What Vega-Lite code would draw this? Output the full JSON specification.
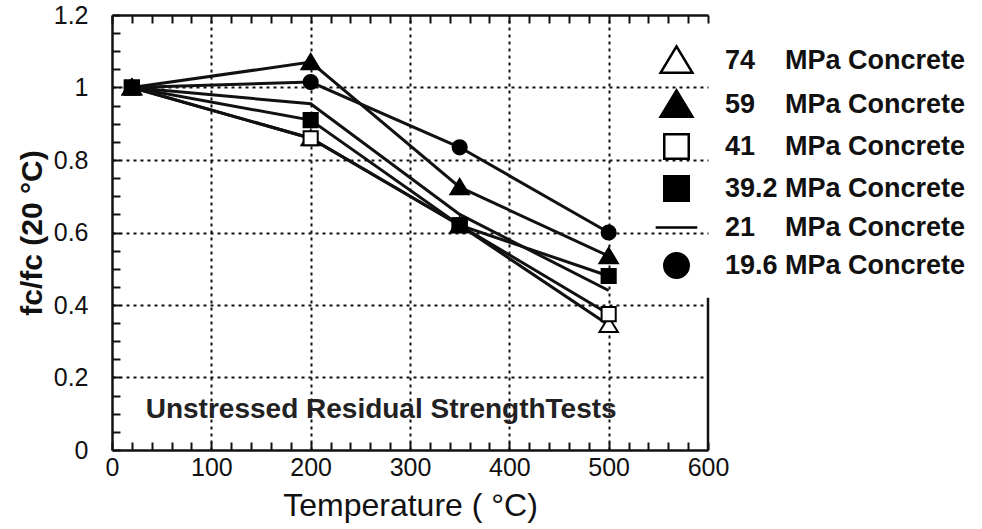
{
  "$schema": "https://vega.github.io/schema/vega-lite/v6.json",
  "width": 596,
  "height": 435,
  "autosize": {"type": "none"},
  "padding": {"left": 112, "top": 15, "right": 274, "bottom": 79},
  "background": "white",
  "config": {
    "view": {"stroke": null},
    "font": "Liberation Sans",
    "legend": {
      "orient": "none",
      "legendX": 551,
      "legendY": 32,
      "padding": 0,
      "symbolSize": 600,
      "symbolStrokeColor": "black",
      "symbolStrokeWidth": 2.5,
      "labelFont": "Liberation Sans",
      "labelFontSize": 27,
      "labelFontWeight": "bold",
      "labelColor": "#111",
      "labelOffset": 35,
      "labelLimit": 400,
      "rowPadding": 7
    }
  },
  "resolve": {"axis": {"x": "independent", "y": "independent"}},
  "data": {
    "values": [
      {"series": "74\u00a0\u00a0\u00a0 MPa Concrete", "temp": 20, "ratio": 1.0},
      {"series": "74\u00a0\u00a0\u00a0 MPa Concrete", "temp": 200, "ratio": 0.86},
      {"series": "74\u00a0\u00a0\u00a0 MPa Concrete", "temp": 350, "ratio": 0.62},
      {"series": "74\u00a0\u00a0\u00a0 MPa Concrete", "temp": 500, "ratio": 0.345},
      {"series": "59\u00a0\u00a0\u00a0 MPa Concrete", "temp": 20, "ratio": 1.0},
      {"series": "59\u00a0\u00a0\u00a0 MPa Concrete", "temp": 200, "ratio": 1.07},
      {"series": "59\u00a0\u00a0\u00a0 MPa Concrete", "temp": 350, "ratio": 0.725},
      {"series": "59\u00a0\u00a0\u00a0 MPa Concrete", "temp": 500, "ratio": 0.535},
      {"series": "41\u00a0\u00a0\u00a0 MPa Concrete", "temp": 20, "ratio": 1.0},
      {"series": "41\u00a0\u00a0\u00a0 MPa Concrete", "temp": 200, "ratio": 0.86},
      {"series": "41\u00a0\u00a0\u00a0 MPa Concrete", "temp": 350, "ratio": 0.62},
      {"series": "41\u00a0\u00a0\u00a0 MPa Concrete", "temp": 500, "ratio": 0.375},
      {"series": "39.2 MPa Concrete", "temp": 20, "ratio": 1.0},
      {"series": "39.2 MPa Concrete", "temp": 200, "ratio": 0.91},
      {"series": "39.2 MPa Concrete", "temp": 350, "ratio": 0.62},
      {"series": "39.2 MPa Concrete", "temp": 500, "ratio": 0.48},
      {"series": "21\u00a0\u00a0\u00a0 MPa Concrete", "temp": 20, "ratio": 1.0},
      {"series": "21\u00a0\u00a0\u00a0 MPa Concrete", "temp": 200, "ratio": 0.955},
      {"series": "21\u00a0\u00a0\u00a0 MPa Concrete", "temp": 350, "ratio": 0.65},
      {"series": "21\u00a0\u00a0\u00a0 MPa Concrete", "temp": 500, "ratio": 0.44},
      {"series": "19.6 MPa Concrete", "temp": 20, "ratio": 1.0},
      {"series": "19.6 MPa Concrete", "temp": 200, "ratio": 1.015},
      {"series": "19.6 MPa Concrete", "temp": 350, "ratio": 0.835},
      {"series": "19.6 MPa Concrete", "temp": 500, "ratio": 0.6}
    ]
  },
  "layer": [
    {
      "mark": {"type": "line", "stroke": "#111", "strokeWidth": 3},
      "encoding": {
        "x": {
          "field": "temp",
          "type": "quantitative",
          "scale": {"domain": [0, 600], "nice": false, "zero": false},
          "axis": {
            "orient": "bottom",
            "values": [0, 20, 40, 60, 80, 100, 120, 140, 160, 180, 200, 220, 240, 260, 280, 300, 320, 340, 360, 380, 400, 420, 440, 460, 480, 500, 520, 540, 560, 580, 600],
            "labelExpr": "datum.value % 100 === 0 ? datum.label : ''",
            "labelFlush": false,
            "labelOverlap": false,
            "labelBound": false,
            "labelFontSize": 25,
            "labelColor": "#111",
            "labelPadding": 13,
            "tickSize": -8,
            "tickWidth": 2,
            "tickColor": "#111",
            "domainColor": "#111",
            "domainWidth": 2.5,
            "grid": false,
            "title": "Temperature ( \u00b0C)",
            "titleFontSize": 32,
            "titleFontWeight": "normal",
            "titleColor": "#111",
            "titlePadding": 10
          }
        },
        "y": {
          "field": "ratio",
          "type": "quantitative",
          "scale": {"domain": [0, 1.2], "nice": false, "zero": false},
          "axis": {
            "orient": "left",
            "values": [0, 0.05, 0.1, 0.15, 0.2, 0.25, 0.3, 0.35, 0.4, 0.45, 0.5, 0.55, 0.6, 0.65, 0.7, 0.75, 0.8, 0.85, 0.9, 0.95, 1.0, 1.05, 1.1, 1.15, 1.2],
            "labelExpr": "round(datum.value * 20) % 4 === 0 ? format(datum.value, '~g') : ''",
            "labelFlush": false,
            "labelOverlap": false,
            "labelBound": false,
            "labelFontSize": 25,
            "labelColor": "#111",
            "labelPadding": 32,
            "tickSize": -8,
            "tickWidth": 2,
            "tickColor": "#111",
            "domainColor": "#111",
            "domainWidth": 2.5,
            "grid": true,
            "gridColor": "#111",
            "gridWidth": 2,
            "gridDash": [3, 4],
            "gridOpacity": {
              "condition": {"test": "round(datum.value * 20) % 4 === 0 && datum.value > 0.1 && datum.value < 1.1", "value": 1},
              "value": 0
            },
            "title": "fc/fc (20 \u00b0C)",
            "titleFontSize": 30,
            "titleFontWeight": "bold",
            "titleColor": "#111",
            "titlePadding": 6
          }
        },
        "detail": {"field": "series"}
      }
    },
    {
      "transform": [{"filter": "indexof(datum.series, '21') !== 0"}],
      "mark": {"type": "point", "strokeWidth": 2, "opacity": 1, "size": 200},
      "encoding": {
        "x": {
          "field": "temp",
          "type": "quantitative",
          "scale": {"domain": [0, 600], "nice": false, "zero": false},
          "axis": {
            "orient": "top",
            "values": [0, 20, 40, 60, 80, 100, 120, 140, 160, 180, 200, 220, 240, 260, 280, 300, 320, 340, 360, 380, 400, 420, 440, 460, 480, 500, 520, 540, 560, 580, 600],
            "labels": false,
            "tickSize": -8,
            "tickWidth": 2,
            "tickColor": "#111",
            "domainColor": "#111",
            "domainWidth": 2.5,
            "grid": true,
            "gridColor": "#111",
            "gridWidth": 2,
            "gridDash": [3, 4],
            "gridOpacity": {
              "condition": {"test": "datum.value % 100 === 0 && datum.value > 0 && datum.value < 600", "value": 1},
              "value": 0
            },
            "title": null
          }
        },
        "y": {
          "field": "ratio",
          "type": "quantitative",
          "scale": {"domain": [0, 1.2], "nice": false, "zero": false},
          "axis": null
        },
        "shape": {
          "field": "series",
          "type": "nominal",
          "title": null,
          "scale": {
            "domain": ["74\u00a0\u00a0\u00a0 MPa Concrete", "59\u00a0\u00a0\u00a0 MPa Concrete", "41\u00a0\u00a0\u00a0 MPa Concrete", "39.2 MPa Concrete", "21\u00a0\u00a0\u00a0 MPa Concrete", "19.6 MPa Concrete"],
            "range": ["M0,-1.15L1.3,1L-1.3,1Z", "M0,-1.15L1.3,1L-1.3,1Z", "square", "square", "M-1.7,0L1.7,0", "circle"]
          }
        },
        "fill": {
          "field": "series",
          "type": "nominal",
          "title": null,
          "scale": {
            "domain": ["74\u00a0\u00a0\u00a0 MPa Concrete", "59\u00a0\u00a0\u00a0 MPa Concrete", "41\u00a0\u00a0\u00a0 MPa Concrete", "39.2 MPa Concrete", "21\u00a0\u00a0\u00a0 MPa Concrete", "19.6 MPa Concrete"],
            "range": ["white", "black", "white", "black", "white", "black"]
          }
        },
        "stroke": {
          "field": "series",
          "type": "nominal",
          "title": null,
          "scale": {
            "domain": ["74\u00a0\u00a0\u00a0 MPa Concrete", "59\u00a0\u00a0\u00a0 MPa Concrete", "41\u00a0\u00a0\u00a0 MPa Concrete", "39.2 MPa Concrete", "21\u00a0\u00a0\u00a0 MPa Concrete", "19.6 MPa Concrete"],
            "range": ["black", "black", "black", "black", "black", "black"]
          }
        }
      }
    },
    {
      "data": {"values": [{"edge": "right"}]},
      "mark": {"type": "rule", "stroke": "#111", "strokeWidth": 2.5},
      "encoding": {
        "x": {"datum": 600, "type": "quantitative", "axis": null},
        "y": {"datum": 0, "type": "quantitative", "axis": null},
        "y2": {"datum": 0.42}
      }
    },
    {
      "data": {"values": [{"note": "Unstressed Residual StrengthTests"}]},
      "mark": {"type": "text", "font": "Liberation Sans", "fontSize": 28, "fontWeight": "bold", "fill": "#222", "align": "center", "baseline": "middle"},
      "encoding": {
        "x": {"datum": 271, "type": "quantitative", "axis": null},
        "y": {"datum": 0.11, "type": "quantitative", "axis": null},
        "text": {"field": "note"}
      }
    }
  ]
}
